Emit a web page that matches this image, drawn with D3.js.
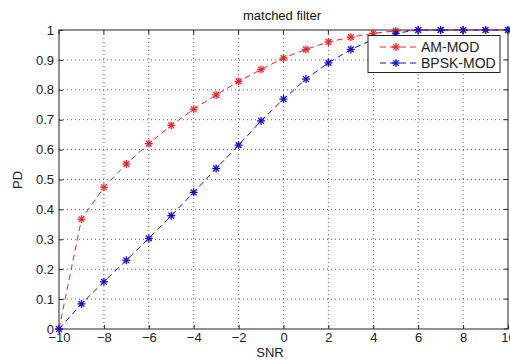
<!DOCTYPE html>
<html><head><meta charset="utf-8">
<script src="https://cdn.jsdelivr.net/npm/d3@7"></script>
<style>body{margin:0;background:#fff;} text{font-family:"Liberation Sans",Arial,sans-serif;}</style>
</head><body><svg id="c" width="510" height="360"></svg>
<script>
const snr = [-10,-9,-8,-7,-6,-5,-4,-3,-2,-1,0,1,2,3,4,5,6,7,8,9,10];
const amMod = [0,0.367,0.474,0.552,0.620,0.681,0.735,0.783,0.828,0.868,0.906,0.935,0.960,0.976,0.989,0.997,1,1,1,1,1];
const bpskMod = [0,0.084,0.158,0.230,0.303,0.379,0.457,0.537,0.615,0.696,0.769,0.836,0.890,0.935,0.968,0.989,1,1,1,1,1];
const xTicks = [-10,-8,-6,-4,-2,0,2,4,6,8,10];
const yTicks = [0,0.1,0.2,0.3,0.4,0.5,0.6,0.7,0.8,0.9,1];
const seriesNames = ["AM-MOD","BPSK-MOD"];
const seriesColors = ["#e8262b","#1010c8"];

const svg = d3.select("#c");
const L=59,R=508,T=30,B=329;
const x = d3.scaleLinear().domain([-10,10]).range([L,R]);
const y = d3.scaleLinear().domain([0,1]).range([B,T]);

// grid
const g = svg.append("g");
g.selectAll(".vg").data(xTicks.slice(1,-1)).enter().append("line")
 .attr("x1",d=>x(d)).attr("x2",d=>x(d)).attr("y1",T).attr("y2",B)
 .attr("stroke","#555").attr("stroke-width",1).attr("stroke-dasharray","1,3");
g.selectAll(".hg").data(yTicks.slice(1,-1)).enter().append("line")
 .attr("y1",d=>y(d)).attr("y2",d=>y(d)).attr("x1",L).attr("x2",R)
 .attr("stroke","#555").attr("stroke-width",1).attr("stroke-dasharray","1,3");

// axes
const xa = svg.append("g").attr("transform",`translate(0,${B})`)
 .call(d3.axisBottom(x).tickValues(xTicks).tickSizeInner(-4).tickSizeOuter(0).tickPadding(4).tickFormat(d3.format("d")));
const ya = svg.append("g").attr("transform",`translate(${L},0)`)
 .call(d3.axisLeft(y).tickValues(yTicks).tickSizeInner(-4).tickSizeOuter(0).tickPadding(5).tickFormat(d=>d===0||d===1?d3.format("d")(d):d3.format(".1f")(d)));
[xa,ya].forEach(a=>{a.selectAll("text").attr("font-size",13).attr("fill","#222").attr("font-family","Liberation Sans, Arial, sans-serif");
 a.selectAll(".domain").remove(); a.selectAll(".tick line").attr("stroke","#222");});
// top/right ticks
svg.append("g").selectAll("line").data(xTicks).enter().append("line")
 .attr("x1",d=>x(d)).attr("x2",d=>x(d)).attr("y1",T).attr("y2",T+4).attr("stroke","#222");
svg.append("g").selectAll("line").data(yTicks).enter().append("line")
 .attr("y1",d=>y(d)).attr("y2",d=>y(d)).attr("x1",R).attr("x2",R-4).attr("stroke","#222");
svg.append("rect").attr("x",L).attr("y",T).attr("width",R-L).attr("height",B-T)
 .attr("fill","none").attr("stroke","#222").attr("stroke-width",1);

function star(sel,cx,cy,col){
  const s=4;
  const p=sel.append("g").attr("stroke",col).attr("stroke-width",1.3);
  p.append("line").attr("x1",cx-s).attr("x2",cx+s).attr("y1",cy).attr("y2",cy);
  p.append("line").attr("x1",cx).attr("x2",cx).attr("y1",cy-s).attr("y2",cy+s);
  const d=s*0.72;
  p.append("line").attr("x1",cx-d).attr("x2",cx+d).attr("y1",cy-d).attr("y2",cy+d);
  p.append("line").attr("x1",cx-d).attr("x2",cx+d).attr("y1",cy+d).attr("y2",cy-d);
}
const line = d3.line().x((d,i)=>x(snr[i])).y(d=>y(d));
[amMod,bpskMod].forEach((vals,k)=>{
  svg.append("path").datum(vals).attr("d",line).attr("fill","none")
   .attr("stroke",seriesColors[k]).attr("stroke-width",1).attr("stroke-dasharray","6,4");
  const gg=svg.append("g");
  vals.forEach((v,i)=>star(gg,x(snr[i]),y(v),seriesColors[k]));
});

// legend
const lg = svg.append("g");
lg.append("rect").attr("x",368).attr("y",35.5).attr("width",132).attr("height",37)
 .attr("fill","#fff").attr("stroke","#222");
seriesNames.forEach((n,k)=>{
  const yy=47+k*16;
  lg.append("line").attr("x1",380).attr("x2",418).attr("y1",yy).attr("y2",yy)
   .attr("stroke",seriesColors[k]).attr("stroke-dasharray","6,4");
  star(lg,396,yy,seriesColors[k]);
  lg.append("text").attr("x",421).attr("y",yy+5).attr("font-size",14).attr("fill","#222").text(n);
});

svg.append("text").attr("x",282).attr("y",20).attr("text-anchor","middle").attr("font-size",13).attr("fill","#111").text("matched filter");
svg.append("text").attr("x",270).attr("y",357).attr("text-anchor","middle").attr("font-size",13).attr("fill","#222").text("SNR");
svg.append("text").attr("transform","translate(22,180) rotate(-90)").attr("text-anchor","middle").attr("font-size",13).attr("fill","#222").text("PD");
</script></body></html>
